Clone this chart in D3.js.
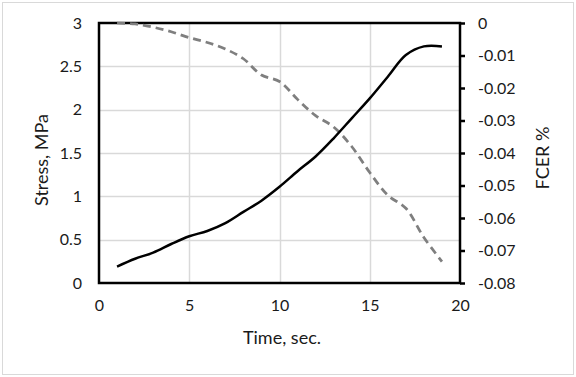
<!DOCTYPE html>
<html><head><meta charset="utf-8">
<script src="https://cdn.jsdelivr.net/npm/d3@7"></script>
<style>body{margin:0;background:#fff}svg{display:block;font-family:Lato,"Open Sans",sans-serif}</style>
</head><body><svg id="c" width="576" height="377"></svg>
<script>
const time = [1,2,3,4,5,6,7,8,9,10,11,12,13,14,15,16,17,18,19];
const stress = [0.19,0.28,0.35,0.45,0.54,0.60,0.69,0.82,0.95,1.11,1.29,1.46,1.67,1.90,2.13,2.38,2.63,2.73,2.73];
const fcer = [0,-0.0003,-0.0013,-0.0027,-0.0045,-0.006,-0.008,-0.011,-0.016,-0.018,-0.0235,-0.0285,-0.032,-0.038,-0.046,-0.053,-0.057,-0.066,-0.0734];
const xTicks = [0,5,10,15,20];
const yTicks = [0,0.5,1,1.5,2,2.5,3];
const y2Ticks = [0,-0.01,-0.02,-0.03,-0.04,-0.05,-0.06,-0.07,-0.08];

const svg = d3.select("#c");
const L=99,R=460,T=23,B=283;
const x = d3.scaleLinear().domain([0,20]).range([L,R]);
const y = d3.scaleLinear().domain([0,3]).range([B,T]);
const y2 = d3.scaleLinear().domain([-0.08,0]).range([B,T]);

svg.append("rect").attr("x",2.5).attr("y",2.5).attr("width",571).attr("height",372)
  .attr("fill","#fff").attr("stroke","#d9d9d9").attr("stroke-width",1);

// gridlines
const g = svg.append("g");
g.selectAll(".hg").data(yTicks.slice(1,-1)).join("line")
  .attr("x1",L).attr("x2",R).attr("y1",d=>Math.round(y(d))+0.5).attr("y2",d=>Math.round(y(d))+0.5)
  .attr("stroke","#d9d9d9").attr("stroke-width",1.5);
g.selectAll(".vg").data(xTicks.slice(1,-1)).join("line")
  .attr("y1",T).attr("y2",B).attr("x1",d=>Math.round(x(d))+0.5).attr("x2",d=>Math.round(x(d))+0.5)
  .attr("stroke","#d9d9d9").attr("stroke-width",1.5);

// plot border
svg.append("rect").attr("x",L).attr("y",T).attr("width",R-L).attr("height",B-T)
  .attr("fill","none").attr("stroke","#000").attr("stroke-width",2.5);

// axes
const yAx = svg.append("g").attr("transform",`translate(${L},0)`)
  .call(d3.axisLeft(y).tickValues(yTicks).tickSize(0).tickPadding(17).tickFormat(d3.format("")));
const xAx = svg.append("g").attr("transform",`translate(0,${B})`)
  .call(d3.axisBottom(x).tickValues(xTicks).tickSize(0).tickPadding(17));
const y2Ax = svg.append("g").attr("transform",`translate(${R},0)`)
  .call(d3.axisRight(y2).tickValues(y2Ticks).tickSize(5).tickPadding(13).tickFormat(d=>d===0?"0":d3.format(".2f")(d).replace("−","-")));
[yAx,xAx,y2Ax].forEach(a=>{
  a.select(".domain").remove();
  a.selectAll("text").attr("font-size",16).attr("fill","#1a1a1a").attr("font-family","Lato, sans-serif");
});
y2Ax.selectAll("line").attr("stroke","#000").attr("stroke-width",2.5);

// lines
const line1 = d3.line().x((d,i)=>x(time[i])).y(d=>y(d)).curve(d3.curveCatmullRom.alpha(0.5));
const line2 = d3.line().x((d,i)=>x(time[i])).y(d=>y2(d)).curve(d3.curveCatmullRom.alpha(0.5));
svg.append("path").attr("d",line2(fcer)).attr("fill","none").attr("stroke","#7f7f7f")
  .attr("stroke-width",2.75).attr("stroke-dasharray","8,5");
svg.append("path").attr("d",line1(stress)).attr("fill","none").attr("stroke","#000")
  .attr("stroke-width",2.5);

// titles
svg.append("text").attr("transform",`translate(43,160) rotate(-90)`).attr("text-anchor","middle")
  .attr("dominant-baseline","middle").attr("font-size",18).attr("fill","#1a1a1a").text("Stress, MPa");
svg.append("text").attr("transform",`translate(544,158) rotate(-90)`).attr("text-anchor","middle")
  .attr("dominant-baseline","middle").attr("font-size",18).attr("fill","#1a1a1a").text("FCER %");
svg.append("text").attr("x",282).attr("y",339).attr("text-anchor","middle")
  .attr("dominant-baseline","middle").attr("font-size",18).attr("fill","#1a1a1a").text("Time, sec.");
</script></body></html>
